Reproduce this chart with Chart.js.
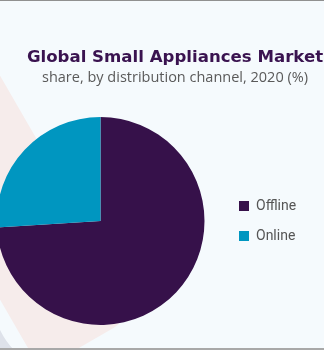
<!DOCTYPE html>
<html>
<head>
<meta charset="utf-8">
<script src="https://cdn.jsdelivr.net/npm/chart.js@4"></script>
<style>
  html, body { margin: 0; padding: 0; background: #F5FAFD; }
  #wrap { position: relative; width: 324px; height: 350px; overflow: hidden; }
  #grafica { position: absolute; left: -22px; top: 0; }
  .titulo, .subtitulo {
    position: absolute; left: 175px; transform: translateX(-50%);
    white-space: nowrap; line-height: 1;
  }
  .titulo { top: 49px; font-family: "DejaVu Sans", sans-serif; font-size: 16.6px; font-weight: bold; color: #3A1350; }
  .subtitulo { top: 70px; font-family: "Open Sans", sans-serif; font-size: 14.5px; color: #5A5A5A; }
</style>
</head>
<body>
<div id="wrap">
  <canvas id="grafica" width="346" height="350"></canvas>
  <div class="titulo">Global Small Appliances Market</div>
  <div class="subtitulo">share, by distribution channel, 2020 (%)</div>
</div>
<script>
// Datos del gráfico
const canales = ["Offline", "Online"];
const participacion = [74, 26];
const colores = ["#36114A", "#0096C0"];

// Fondo decorativo (formas claras detrás del pastel)
const fondo = {
  id: "fondo",
  beforeDraw(chart) {
    const ctx = chart.ctx;
    ctx.save();
    ctx.fillStyle = "#F5FAFD";
    ctx.fillRect(0, 0, chart.width, chart.height);
    ctx.translate(22, 0); // coordenadas de página

    // franja rosada inclinada
    ctx.save();
    ctx.translate(-45.8, 108.2);
    ctx.rotate(-Math.PI / 6);
    ctx.fillStyle = "#F6ECEB";
    ctx.beginPath();
    ctx.roundRect(-56, -271, 112, 541, 28);
    ctx.fill();
    ctx.restore();

    // esquina gris
    ctx.fillStyle = "#DEE2EA";
    ctx.beginPath();
    ctx.moveTo(0, 330);
    ctx.quadraticCurveTo(6, 342, 14, 350);
    ctx.lineTo(0, 350);
    ctx.closePath();
    ctx.fill();

    // bordes
    ctx.fillStyle = "#909090";
    ctx.fillRect(0, 0, 324, 1);
    ctx.fillStyle = "#A8A8A8";
    ctx.fillRect(0, 348, 324, 2);
    ctx.restore();
  }
};

const ctx = document.getElementById("grafica").getContext("2d");
new Chart(ctx, {
  type: "pie",
  data: {
    labels: canales,
    datasets: [{
      data: participacion,
      backgroundColor: colores,
      borderWidth: 0
    }]
  },
  options: {
    responsive: false,
    devicePixelRatio: 1,
    animation: false,
    layout: { padding: { top: 117, bottom: 25, left: 0, right: 21 } },
    plugins: {
      legend: {
        position: "right",
        maxWidth: 80,
        labels: {
          boxWidth: 10,
          boxHeight: 10,
          padding: 16,
          color: "#555555",
          font: { family: "Roboto", size: 14 }
        }
      },
      title: { display: false },
      tooltip: { enabled: false }
    }
  },
  plugins: [fondo]
});
</script>
</body>
</html>
